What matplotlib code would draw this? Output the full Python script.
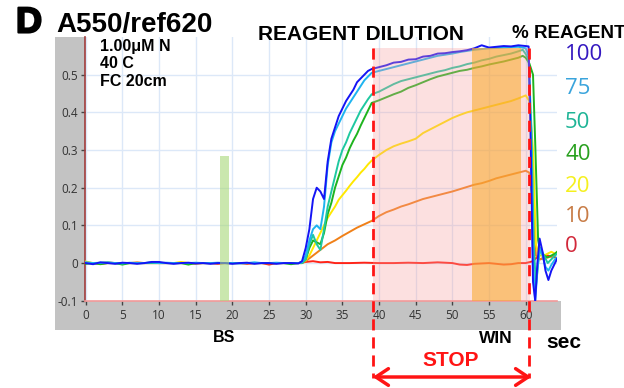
import matplotlib
matplotlib.use("Agg")
import matplotlib.pyplot as plt
from matplotlib.patches import Rectangle, FancyArrowPatch
from matplotlib.lines import Line2D
import matplotlib.patheffects as pe

# ---------------- data ----------------
base_t = list(range(0, 30))
base_blue   = [0.0,-0.003,0.002,0.0,-0.002,0.001,0.0,-0.002,0.0,0.003,0.003,0.0,-0.002,0.0,0.001,-0.001,0.0,-0.002,0.0,0.0,-0.002,0.0,0.001,-0.002,0.0,0.0,-0.002,0.0,0.0,-0.001]
base_cyan   = [0.002,0.0,0.001,0.002,0.0,-0.001,0.001,0.0,0.0,0.002,0.0,0.001,0.0,0.0,0.0,0.001,0.0,0.0,0.001,0.0,0.0,-0.001,0.0,0.002,0.0,0.0,0.001,0.0,0.0,0.0]
base_teal   = [0.001,0.0,0.0,0.001,0.0,0.0,0.0,0.0,0.0,0.001,0.0,0.0,0.0,0.0,0.0,0.0,0.0,0.0,0.0,0.0,0.0,0.0,0.0,0.0,0.0,0.0,0.0,0.0,0.0,0.0]
base_green  = [-0.002,0.0,-0.003,0.0,0.0,-0.004,0.0,0.0,0.0,0.0,0.0,0.0,0.0,0.0,-0.004,0.0,0.0,0.0,0.0,0.0,0.0,0.0,0.0,0.0,0.0,0.0,0.0,0.0,-0.003,0.0]
base_yellow = [0.004,0.0,0.0,0.0,0.0,0.0,0.0,0.0,0.0,0.0,0.0,0.0,0.0,0.003,0.0,0.0,0.0,0.0,0.0,0.0,0.0,0.0,0.0,0.0,0.0,0.0,0.0,0.0,0.0,0.0]
base_orange = [0.0,0.0,0.0,0.002,0.0,0.0,0.0,0.002,0.0,0.0,0.0,0.0,0.0,0.0,0.0,-0.002,0.0,0.0,0.0,0.0,0.0,0.0,0.0,0.0,0.0,0.0,0.0,0.0,0.0,0.0]
base_red    = [0.0,0.0,-0.002,0.0,0.0,0.0,0.0,0.0,0.0,0.0,0.0,0.0,0.0,0.0,0.0,0.0,0.0,0.0,-0.002,0.0,0.0,0.0,-0.002,0.0,0.0,-0.004,0.0,0.0,0.0,0.0]

blue_t = [29.5,30,30.5,31,31.5,32,32.5,33,33.5,34,34.5,35,35.5,36,36.5,37,37.5,38,38.5,39,40,41,42,43,44,45,46,47,48,49,50,51,52,53,54,55,56,57,58,59,60,60.4,60.7,61.0,61.3,61.6,61.9,62.3,62.7,63.1,63.5,64,64.3]
blue_v = [0.005,0.04,0.09,0.17,0.2,0.19,0.17,0.27,0.33,0.36,0.39,0.41,0.43,0.445,0.46,0.48,0.49,0.5,0.51,0.515,0.52,0.525,0.532,0.534,0.54,0.541,0.548,0.55,0.556,0.557,0.56,0.562,0.565,0.57,0.578,0.572,0.574,0.576,0.575,0.578,0.576,0.575,0.3,-0.05,-0.1,0.0,0.065,0.03,-0.02,-0.045,-0.02,0.0,0.012]

cyan_t = [29.5,30,30.5,31,31.5,32,32.5,33,33.5,34,34.5,35,35.5,36,36.5,37,37.5,38,38.5,39,40,41,42,43,44,45,46,47,48,49,50,51,52,53,54,55,56,57,58,59,60,60.4,60.7,61.0,61.3,61.6,61.9,62.3,62.7,63.1,63.5,64,64.3]
cyan_v = [0.003,0.02,0.06,0.09,0.1,0.09,0.15,0.26,0.32,0.35,0.37,0.39,0.41,0.425,0.44,0.455,0.47,0.485,0.495,0.505,0.51,0.515,0.52,0.525,0.53,0.535,0.54,0.545,0.55,0.553,0.556,0.56,0.563,0.566,0.568,0.57,0.571,0.572,0.573,0.574,0.57,0.55,0.35,0.0,-0.1,-0.02,0.04,0.02,-0.01,-0.02,-0.005,0.01,0.015]

teal_t = [29.5,30,30.5,31,31.5,32,32.5,33,33.5,34,34.5,35,35.5,36,36.5,37,37.5,38,38.5,39,40,41,42,43,44,45,46,47,48,49,50,51,52,53,54,55,56,57,58,59,59.6,60,60.4,60.8,61.1,61.4,61.7,62,62.5,63,63.5,64,64.3]
teal_v = [0.0,0.01,0.05,0.075,0.05,0.035,0.09,0.15,0.19,0.23,0.27,0.3,0.32,0.345,0.365,0.385,0.405,0.42,0.435,0.448,0.455,0.465,0.475,0.483,0.488,0.493,0.498,0.503,0.508,0.512,0.518,0.522,0.528,0.532,0.538,0.542,0.548,0.552,0.556,0.562,0.566,0.555,0.54,0.35,0.05,-0.06,0.0,0.04,0.02,0.0,0.01,0.02,0.025]

green_t = [29.5,30,30.5,31,31.5,32,32.5,33,33.5,34,34.5,35,35.5,36,36.5,37,37.5,38,38.5,39,40,41,42,43,44,45,46,47,48,49,50,51,52,53,54,55,56,57,58,59,59.6,60,60.5,61,61.3,61.7,62,62.5,63,63.5,64,64.3]
green_v = [0.0,0.01,0.04,0.06,0.055,0.05,0.08,0.13,0.16,0.2,0.23,0.26,0.28,0.305,0.325,0.343,0.365,0.385,0.405,0.425,0.432,0.44,0.448,0.455,0.465,0.472,0.48,0.488,0.495,0.5,0.505,0.51,0.513,0.518,0.522,0.527,0.531,0.535,0.54,0.545,0.55,0.545,0.53,0.5,0.32,0.06,0.03,0.02,0.015,0.02,0.025,0.03]

yellow_t = [29.5,30,30.5,31,31.5,32,32.5,33,33.5,34,34.5,35,35.5,36,36.5,37,37.5,38,38.5,39,40,41,42,43,44,45,46,47,48,49,50,51,52,53,54,55,56,57,58,59,60,60.5,61,61.4,61.8,62.5,63,63.5,64,64.3]
yellow_v = [0.002,0.008,0.02,0.04,0.06,0.08,0.1,0.12,0.135,0.15,0.168,0.18,0.192,0.205,0.217,0.228,0.24,0.25,0.262,0.272,0.287,0.3,0.31,0.317,0.323,0.33,0.345,0.355,0.365,0.375,0.385,0.393,0.4,0.405,0.41,0.415,0.42,0.425,0.43,0.437,0.445,0.43,0.3,0.05,0.02,0.02,0.025,0.03,0.025,0.03]

orange_t = [29.5,30,31,32,33,34,35,36,37,38,39,40,41,42,43,44,45,46,47,48,49,50,51,52,53,54,55,56,57,58,59,60,60.5,61,61.4,62,63,64]
orange_v = [0.0,0.005,0.02,0.035,0.05,0.06,0.072,0.083,0.094,0.103,0.112,0.125,0.135,0.142,0.15,0.156,0.163,0.17,0.175,0.18,0.185,0.19,0.196,0.202,0.208,0.212,0.218,0.225,0.23,0.235,0.24,0.245,0.24,0.15,0.02,0.01,0.015,0.02]

red_t = [30,31,32,33,34,36,38,40,42,44,46,48,50,51,52,53,55,57,58,59,60,61,61.5,62,63,64]
red_v = [0.003,0.005,0.002,0.003,0.0,0.0,0.001,0.0,0.0,0.001,0.0,0.002,0.0,-0.004,-0.005,-0.002,0.0,-0.004,-0.003,0.0,0.0,0.005,0.015,0.01,0.02,0.015]

pct_labels = ["100", "75", "50", "40", "20", "10", "0"]
x_ticks = [0, 5, 10, 15, 20, 25, 30, 35, 40, 45, 50, 55, 60]
y_ticks = [-0.1, 0, 0.1, 0.2, 0.3, 0.4, 0.5]
y_ticklabels = ["-0.1", "0", "0.1", "0.2", "0.3", "0.4", "0.5"]

series = [
    (base_red, red_t, red_v, "#ff2418"),
    (base_orange, orange_t, orange_v, "#f08018"),
    (base_yellow, yellow_t, yellow_v, "#ffe800"),
    (base_green, green_t, green_v, "#1eb41e"),
    (base_teal, teal_t, teal_v, "#1ec8a0"),
    (base_cyan, cyan_t, cyan_v, "#1eb4f0"),
    (base_blue, blue_t, blue_v, "#1414f5"),
]
label_colors = ["#3418c0", "#3aa4dc", "#1eb496", "#28a01e", "#f5f01e", "#c87c46", "#d2283a"]

# ---------------- figure ----------------
W, H = 624, 388
fig = plt.figure(figsize=(W / 100, H / 100), dpi=100)
fig.patch.set_facecolor("white")

def fx(x):
    return x / W

def fy(y):
    return 1 - y / H

# gray panel (drawn beneath the axes)
gray = "#c3c3c3"
fig.patches.append(Rectangle((fx(55), fy(330)), fx(85) - fx(55), fy(37) - fy(330),
                             transform=fig.transFigure, facecolor=gray, edgecolor="none", zorder=-2))
fig.patches.append(Rectangle((fx(55), fy(330)), fx(561) - fx(55), fy(300.75) - fy(330),
                             transform=fig.transFigure, facecolor=gray, edgecolor="none", zorder=-2))

ax = fig.add_axes([fx(85), fy(300.75), fx(557.2) - fx(85), fy(37) - fy(300.75)])
ax.set_xlim(-0.1, 64.3)
ax.set_ylim(-0.1, 0.6)
ax.set_facecolor("white")

for s in ["top", "right"]:
    ax.spines[s].set_visible(False)
ax.spines["left"].set_color("#a03c3c")
ax.spines["left"].set_linewidth(1.2)
ax.spines["bottom"].set_color("#f29a9a")
ax.spines["bottom"].set_linewidth(1.2)

ax.set_xticks(x_ticks)
ax.set_yticks(y_ticks)
ax.set_yticklabels(y_ticklabels)
ax.tick_params(axis="both", length=3, width=1, color="#444444", labelcolor="#333333",
               labelsize=8.5, pad=2)
ax.tick_params(axis="x", pad=3)
for lab in ax.get_xticklabels() + ax.get_yticklabels():
    lab.set_fontfamily("Open Sans")
ax.grid(True, color="#dce8f8", linewidth=1)
ax.set_axisbelow(True)

for base, t, v, c in series:
    ax.plot(list(base_t) + t, base + v, color=c, lw=1.4, zorder=3, clip_on=True)

# shaded regions (semi-transparent over lines)
ax.add_patch(Rectangle((39.2, -0.1), 60.6 - 39.2, 0.67, facecolor="#f8a0a0", alpha=0.32,
                       edgecolor="none", zorder=4))
ax.add_patch(Rectangle((52.7, -0.1), 59.3 - 52.7, 0.67, facecolor="#f9a825", alpha=0.55,
                       edgecolor="none", zorder=4))
ax.add_patch(Rectangle((18.3, -0.1), 19.6 - 18.3, 0.385, facecolor="#a8d878", alpha=0.6,
                       edgecolor="none", zorder=4))

# dashed red lines and arrow
for xp in [373, 528.5]:
    fig.lines.append(Line2D([fx(xp), fx(xp)], [fy(48), fy(378)], transform=fig.transFigure,
                            color="#ff1414", lw=2, dashes=(4, 2.5), zorder=10))
fig.patches.append(FancyArrowPatch((fx(370), fy(377)), (fx(534), fy(377)),
                                   transform=fig.transFigure, arrowstyle="<->,head_length=6,head_width=4",
                                   color="#ff1414", lw=2.5, mutation_scale=1.5, zorder=10))

bold = dict(fontfamily="Liberation Sans", fontweight="bold", color="black")
fig.text(fx(16), fy(23), "D", fontsize=26, ha="left", va="center",
         path_effects=[pe.withStroke(linewidth=1.5, foreground="black")], **bold)
fig.text(fx(56), fy(25), "A550/ref620", fontsize=20, ha="left", va="center", **bold)
fig.text(fx(258), fy(34), "REAGENT DILUTION", fontsize=15, ha="left", va="center", **bold)
fig.text(fx(512), fy(34), "% REAGENT", fontsize=13.5, ha="left", va="center", **bold)
fig.text(fx(100), fy(46.5), "1.00\u03bcM N", fontsize=11.5, ha="left", va="center", **bold)
fig.text(fx(100), fy(64), "40 C", fontsize=11.5, ha="left", va="center", **bold)
fig.text(fx(100), fy(81), "FC 20cm", fontsize=11.5, ha="left", va="center", **bold)
fig.text(fx(224), fy(338), "BS", fontsize=11.5, ha="center", va="center", **bold)
fig.text(fx(495.5), fy(338.5), "WIN", fontsize=12.5, ha="center", va="center", **bold)
fig.text(fx(564), fy(343), "sec", fontsize=15, ha="center", va="center", **bold)
fig.text(fx(451), fy(361), "STOP", fontsize=15, ha="center", va="center",
         fontfamily="Liberation Sans", fontweight="bold", color="#ff1414")

label_y = [54, 89, 122, 155, 186, 216, 247]
for lab, yy, c in zip(pct_labels, label_y, label_colors):
    fig.text(fx(565), fy(yy), lab, fontsize=16, ha="left", va="center",
             fontfamily="Open Sans", color=c)

fig.savefig("out.png", dpi=100)
